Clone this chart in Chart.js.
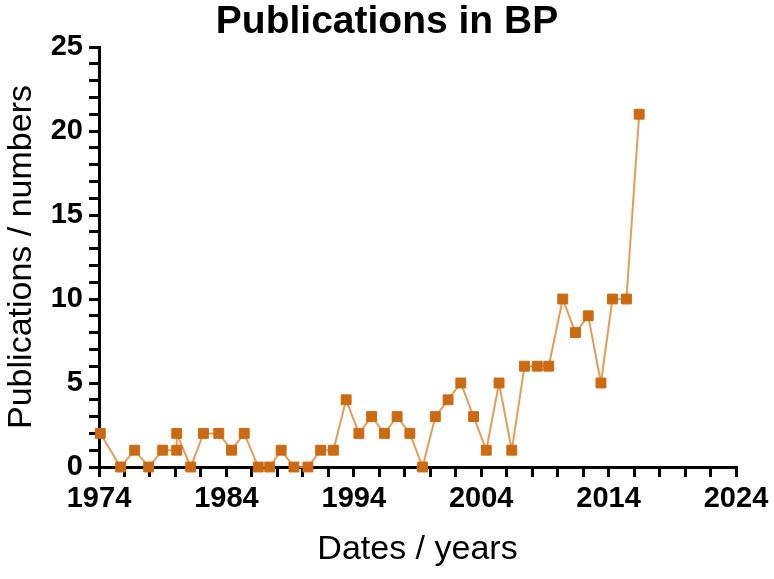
<!DOCTYPE html>
<html>
<head>
<meta charset="utf-8">
<script src="https://cdn.jsdelivr.net/npm/chart.js@4"></script>
<style>
  html, body { margin: 0; padding: 0; background: #ffffff; }
  #wrap { width: 774px; height: 579px; }
</style>
</head>
<body>
<div id="wrap"><canvas id="c" width="774" height="579"></canvas></div>
<script>
const chartTitle = "Publications in BP";
const xTitle = "Dates / years";
const yTitle = "Publications / numbers";
const xTickLabels = [1974, 1984, 1994, 2004, 2014, 2024];
const yTickLabels = [0, 5, 10, 15, 20, 25];
const years = [1974.1, 1975.7, 1976.8, 1977.9, 1979.0, 1980.1, 1980.1, 1981.2, 1982.2, 1983.4,
  1984.4, 1985.4, 1986.5, 1987.4, 1988.3, 1989.3, 1990.4, 1991.4, 1992.4, 1993.4,
  1994.4, 1995.4, 1996.4, 1997.4, 1998.4, 1999.4, 2000.4, 2001.4, 2002.4, 2003.4,
  2004.4, 2005.4, 2006.4, 2007.4, 2008.4, 2009.3, 2010.4, 2011.4, 2012.4, 2013.4,
  2014.3, 2015.4, 2016.4];
const publications = [2, 0, 1, 0, 1, 1, 2, 0, 2, 2,
  1, 2, 0, 0, 1, 0, 0, 1, 1, 4,
  2, 3, 2, 3, 2, 0, 3, 4, 5, 3,
  1, 5, 1, 6, 6, 6, 10, 8, 9, 5,
  10, 10, 21];

const points = years.map((y, i) => ({ x: y, y: publications[i] }));
const FONT = "'Liberation Sans', Arial, sans-serif";

new Chart(document.getElementById('c'), {
  type: 'line',
  data: {
    datasets: [{
      data: points,
      borderColor: 'rgba(222,140,60,0.85)',
      borderWidth: 2,
      pointStyle: 'rect',
      pointRadius: 7,
      pointBorderWidth: 1,
      pointBackgroundColor: '#cc6a12',
      pointBorderColor: '#cc6a12',
      tension: 0,
      clip: false
    }]
  },
  options: {
    responsive: false,
    animation: false,
    devicePixelRatio: 1,
    layout: { padding: { top: 0, right: 0, bottom: 0, left: 0 } },
    plugins: {
      legend: { display: false },
      tooltip: { enabled: false },
      title: {
        display: true,
        text: chartTitle,
        color: '#000',
        font: { family: FONT, size: 39, weight: 'bold', lineHeight: 1 },
        padding: { top: 3, bottom: 5 }
      }
    },
    scales: {
      x: {
        type: 'linear',
        min: 1974, max: 2024,
        border: { display: true, color: '#000', width: 3 },
        grid: { display: true, drawOnChartArea: false, drawTicks: true, tickLength: 10, color: '#000', lineWidth: 3 },
        ticks: {
          stepSize: 2,
          autoSkip: false,
          maxRotation: 0,
          color: '#000',
          padding: 5,
          font: { family: FONT, size: 29, weight: 'bold' },
          callback: (v) => xTickLabels.includes(v) ? String(v) : ''
        },
        title: {
          display: true,
          text: xTitle,
          color: '#000',
          font: { family: FONT, size: 34, lineHeight: 1 },
          padding: { top: 0, bottom: 12 }
        },
        afterFit: (s) => { s.height = 112; s.paddingRight = 38; }
      },
      y: {
        min: 0, max: 25,
        border: { display: true, color: '#000', width: 3 },
        grid: { display: true, drawOnChartArea: false, drawTicks: true, tickLength: 10, color: '#000', lineWidth: 3 },
        ticks: {
          stepSize: 1,
          autoSkip: false,
          color: '#000',
          padding: 6,
          font: { family: FONT, size: 29, weight: 'bold' },
          callback: (v) => yTickLabels.includes(v) ? String(v) : ''
        },
        title: {
          display: true,
          text: yTitle,
          color: '#000',
          font: { family: FONT, size: 34, lineHeight: 1 },
          padding: { top: 5, bottom: 0 }
        },
        afterFit: (s) => { s.width = 99; }
      }
    }
  }
});
</script>
</body>
</html>
